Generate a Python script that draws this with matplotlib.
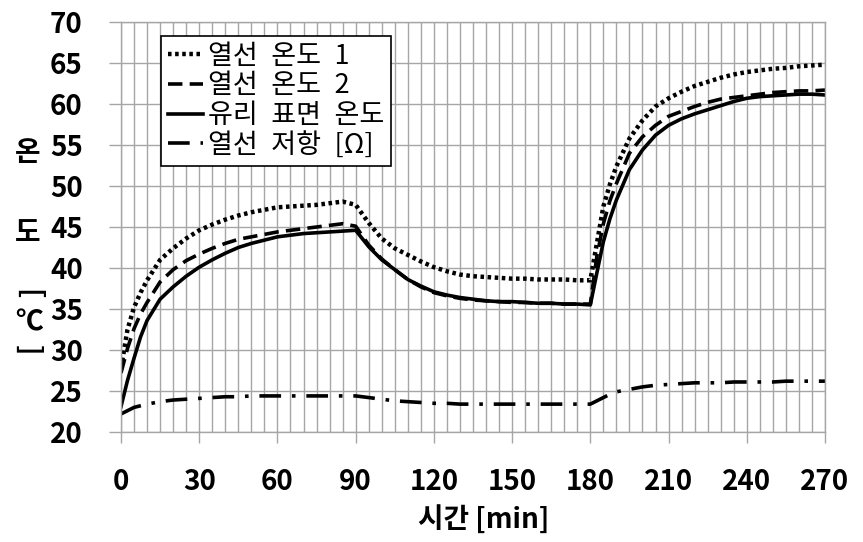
import matplotlib
matplotlib.use("Agg")
import matplotlib.pyplot as plt
from matplotlib.ticker import MultipleLocator

plt.rcParams['font.family'] = ['Noto Sans CJK KR', 'DejaVu Sans']

time = [0, 2.5, 5, 7.5, 10, 15, 20, 25, 30, 35, 40, 45, 50, 55, 60, 65, 70, 75, 80, 85, 90,
        95, 100, 105, 110, 115, 120, 125, 130, 135, 140, 145, 150, 155, 160, 165, 170, 175, 180,
        182.5, 185, 187.5, 190, 195, 200, 205, 210, 215, 220, 225, 230, 235, 240, 245, 250,
        255, 260, 265, 270]

wire1 = [27.8, 32.5, 35.2, 37.0, 38.5, 41.0, 42.4, 43.6, 44.6, 45.3, 45.9, 46.4, 46.8, 47.1,
         47.4, 47.5, 47.6, 47.7, 47.9, 48.1, 47.7,
         45.5, 43.6, 42.4, 41.6, 40.8, 40.1, 39.6, 39.2, 39.0, 38.9, 38.8, 38.7, 38.7, 38.6,
         38.6, 38.6, 38.5, 38.5,
         43.0, 47.5, 50.2, 52.4, 55.8, 58.0, 59.7, 60.7, 61.5, 62.2, 62.7, 63.2, 63.6, 63.9,
         64.1, 64.3, 64.4, 64.6, 64.7, 64.8]

wire2 = [27.2, 30.2, 32.6, 34.4, 35.8, 38.3, 39.8, 40.9, 41.7, 42.4, 43.0, 43.5, 43.8, 44.1,
         44.4, 44.6, 44.8, 45.0, 45.2, 45.4, 45.1,
         42.8, 41.1, 39.8, 38.6, 37.7, 37.0, 36.6, 36.3, 36.1, 36.0, 35.9, 35.8, 35.8, 35.7,
         35.7, 35.6, 35.6, 35.6,
         41.4, 45.4, 48.2, 50.3, 54.0, 56.0, 57.4, 58.5, 59.1, 59.7, 60.2, 60.6, 60.8, 61.0,
         61.2, 61.4, 61.5, 61.6, 61.6, 61.7]

glass = [23.1, 26.3, 29.0, 31.6, 33.6, 36.2, 37.7, 39.0, 40.1, 41.0, 41.8, 42.5, 43.0, 43.4,
         43.8, 44.0, 44.2, 44.3, 44.4, 44.5, 44.6,
         42.6, 41.0, 39.8, 38.6, 37.8, 37.1, 36.7, 36.4, 36.2, 36.0, 35.9, 35.9, 35.8, 35.7,
         35.7, 35.6, 35.6, 35.5,
         39.4, 43.2, 46.0, 48.3, 52.0, 54.4, 56.2, 57.4, 58.2, 58.8, 59.3, 59.8, 60.3, 60.7,
         60.9, 61.0, 61.1, 61.2, 61.2, 61.1]

resist = [22.2, 22.6, 23.0, 23.2, 23.4, 23.7, 23.9, 24.0, 24.1, 24.2, 24.3, 24.3, 24.4, 24.4,
          24.4, 24.4, 24.4, 24.4, 24.4, 24.4, 24.4,
          24.2, 24.0, 23.8, 23.7, 23.6, 23.5, 23.5, 23.4, 23.4, 23.4, 23.4, 23.4, 23.4, 23.4,
          23.4, 23.4, 23.4, 23.4,
          23.8, 24.2, 24.6, 24.9, 25.2, 25.5, 25.7, 25.8, 25.9, 26.0, 26.0, 26.0, 26.1, 26.1,
          26.1, 26.1, 26.2, 26.2, 26.2, 26.2]

labels = ['열선\u2002온도\u20021', '열선\u2002온도\u20022', '유리\u2002표면\u2002온도',
          '열선\u2002저항\u2002[Ω]']
xticks = [0, 30, 60, 90, 120, 150, 180, 210, 240, 270]
yticks = [20, 25, 30, 35, 40, 45, 50, 55, 60, 65, 70]

fig = plt.figure(figsize=(8.63, 5.42), dpi=100)
ax = fig.add_axes([121/863, 1-432/542, (825-121)/863, (432-22)/542])

grid_c = '#a6a6a6'
ax.plot(time, wire1, color='black', lw=3.2, linestyle=(0, (0.8, 0.8)), label=labels[0])
ax.plot(time, wire2, color='black', lw=2.6, linestyle=(0, (4, 2)), label=labels[1])
ax.plot(time, glass, color='black', lw=2.6, linestyle='-', label=labels[2])
ax.plot(time, resist, color='black', lw=2.6, linestyle=(0, (6, 3, 1, 3)), label=labels[3])

ax.set_xlim(0, 270)
ax.set_ylim(20, 70)
ax.set_xticks(xticks)
ax.set_yticks(yticks)
ax.xaxis.set_minor_locator(MultipleLocator(5))
ax.grid(True, which='major', color=grid_c, lw=1.0)
ax.grid(True, which='minor', axis='x', color=grid_c, lw=1.0)
ax.set_axisbelow(True)
for s in ax.spines.values():
    s.set_color(grid_c)
    s.set_linewidth(1.0)
ax.tick_params(axis='x', which='major', direction='out', length=8, width=1, color=grid_c,
               pad=18, labelsize=20)
ax.tick_params(axis='x', which='minor', length=0)
ax.tick_params(axis='y', which='major', direction='out', length=8.5, width=1, color=grid_c,
               pad=19, labelsize=20)
for lab in ax.get_xticklabels() + ax.get_yticklabels():
    lab.set_fontweight('bold')

ax.set_xlabel('시간 [min]', fontsize=20, fontweight='bold')
ax.xaxis.set_label_coords((484-121)/704, -(519-432)/410)
ax.xaxis.label.set_va('center')

# stacked vertical y-axis label
ylab_kw = dict(fontsize=20, fontweight='bold', ha='center', va='center')
fig.text(28/863, 1-153/542, '온', **ylab_kw)
fig.text(28/863, 1-233/542, '도', **ylab_kw)
fig.text(28/863, 1-294/542, '[', rotation=-90, **ylab_kw)
fig.text(29/863, 1-322/542, '℃', **ylab_kw)
fig.text(28/863, 1-350/542, ']', rotation=-90, **ylab_kw)

leg = ax.legend(loc='upper left', bbox_to_anchor=((161-121)/704, (432-36)/410),
                fontsize=19.5, frameon=True, fancybox=False, edgecolor='black',
                handlelength=1.3, handletextpad=0.2, borderpad=0.25, labelspacing=0.1,
                borderaxespad=0, framealpha=1)
leg.get_frame().set_linewidth(1.2)

fig.savefig('out.png', dpi=100)
